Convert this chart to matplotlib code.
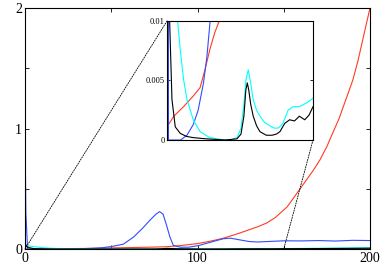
import numpy as np
import matplotlib
matplotlib.use("Agg")
import matplotlib.pyplot as plt
from matplotlib.patches import ConnectionPatch
import matplotlib.ticker as mticker

plt.rcParams['font.family'] = ['Liberation Serif', 'DejaVu Serif']

# ============================================================
# DATA
# ============================================================

red_x = [0, 7, 17, 27, 34, 39, 44, 49, 55, 65, 75, 82, 90, 100, 105, 110, 115,
         121, 125, 130, 135, 140, 145, 152, 157, 163, 167, 171, 175, 178, 182,
         186, 190, 193, 196, 200]
red_y = [0.0011, 0.002, 0.0028, 0.0037, 0.0044, 0.0059, 0.0076, 0.009, 0.0103,
         0.013, 0.016, 0.019, 0.028, 0.045, 0.058, 0.073, 0.09, 0.116, 0.135,
         0.16, 0.185, 0.215, 0.26, 0.35, 0.45, 0.57, 0.65, 0.74, 0.85, 0.95,
         1.08, 1.24, 1.4, 1.56, 1.75, 2.0]

blue_x = [0, 0.5, 1.5, 5, 14, 20.5, 27, 32, 37.5, 41, 44.3, 50, 57, 63, 68,
          72.5, 76, 78, 80, 82, 84, 86, 90, 95, 101, 106, 111, 115, 119, 124,
          130, 135, 142, 150, 160, 170, 180, 190, 200]
blue_y = [1.0, 0.3, 0.0, 0.0, 0.0, 0.0004, 0.0013, 0.0025, 0.0048, 0.007, 0.01,
          0.02, 0.04, 0.1, 0.17, 0.24, 0.29, 0.31, 0.29, 0.2, 0.1, 0.03, 0.015,
          0.015, 0.03, 0.05, 0.07, 0.085, 0.09, 0.077, 0.062, 0.058, 0.063,
          0.068, 0.067, 0.07, 0.066, 0.072, 0.07]

cyan_x = [0, 5, 10.9, 13.6, 17, 20.5, 27, 34, 44, 55, 65, 72, 76, 79, 81, 83.5,
          85.5, 88.6, 92, 95.5, 100, 105.7, 110, 114, 117, 119, 122, 124.4,
          129.5, 136, 143, 150, 160, 175, 200]
cyan_y = [0.03, 0.02, 0.01, 0.0076, 0.0051, 0.0034, 0.0017, 0.0007, 0.0002,
          0.00005, 0.0, 0.0002, 0.001, 0.003, 0.005, 0.0059, 0.005, 0.0034,
          0.0025, 0.002, 0.0015, 0.0012, 0.001, 0.001, 0.0012, 0.0014, 0.002,
          0.0025, 0.0028, 0.0028, 0.0031, 0.0035, 0.005, 0.007, 0.012]

black_x = [0, 1, 2.7, 5.1, 8.5, 13.6, 20, 27, 40, 60, 72, 76, 79, 81, 82.5, 84,
           86, 88.6, 92, 95.5, 102, 108, 112.5, 116, 121, 126, 131, 136, 141.5,
           146, 150, 160, 175, 200]
black_y = [0.05, 0.02, 0.01, 0.0034, 0.0011, 0.00056, 0.0003, 0.0002, 0.0001,
           0.0, 0.0001, 0.0005, 0.002, 0.0042, 0.0048, 0.0042, 0.003, 0.002,
           0.0012, 0.0007, 0.0004, 0.0004, 0.0005, 0.0007, 0.0014, 0.0017,
           0.0016, 0.002, 0.0017, 0.0021, 0.0028, 0.003, 0.004, 0.006]

main_xticks = [0, 100, 200]
main_yticks = [0, 1, 2]
inset_yticks = [0, 0.005, 0.01]
inset_yticklabels = ["0", "0.005", "0.01"]

# ============================================================
# PLOT
# ============================================================

RED = '#ff3b1f'
BLUE = '#2f4cff'
CYAN = '#00ffff'
BLACK = '#000000'
LW = 0.8


def draw_lines(ax):
    ax.plot(red_x, red_y, color=RED, lw=LW)
    ax.plot(blue_x, blue_y, color=BLUE, lw=LW)
    ax.plot(cyan_x, cyan_y, color=CYAN, lw=LW)
    ax.plot(black_x, black_y, color=BLACK, lw=LW)


fig = plt.figure(figsize=(3.82, 2.70), dpi=100)
ax = fig.add_axes([25 / 382, 1 - 249 / 270, 345 / 382, 241 / 270])

draw_lines(ax)

ax.set_xlim(0, 200)
ax.set_ylim(0, 2)
ax.xaxis.set_major_locator(mticker.FixedLocator(main_xticks))
ax.xaxis.set_minor_locator(mticker.FixedLocator([50, 150]))
ax.yaxis.set_major_locator(mticker.FixedLocator(main_yticks))
ax.yaxis.set_minor_locator(mticker.FixedLocator([0.5, 1.5]))
ax.tick_params(which='both', direction='in', top=True, right=True,
               length=3, width=0.6, labelsize=10, pad=2)
for s in ax.spines.values():
    s.set_linewidth(0.8)

# ============================================================
# INSET
# ============================================================

axin = fig.add_axes([167 / 382, 1 - 140 / 270, 146 / 382, 119 / 270])
draw_lines(axin)
axin.set_xlim(0, 150)
axin.set_ylim(0, 0.01)
axin.set_xticks([])
axin.set_yticks(inset_yticks)
axin.set_yticklabels(inset_yticklabels)
axin.tick_params(direction='in', right=True, length=2.5, width=0.6,
                 labelsize=6, pad=1.5)
for s in axin.spines.values():
    s.set_linewidth(0.8)

# dotted connector lines
for xa, xb in [((0, 1), (0, 0)), ((1, 0), (150, 0))]:
    con = ConnectionPatch(xyA=xa, coordsA=axin.transAxes,
                          xyB=xb, coordsB=ax.transData,
                          linestyle=(0, (1.5, 1.5)), linewidth=0.6,
                          color='black')
    fig.add_artist(con)

fig.savefig('out.png', dpi=100)
